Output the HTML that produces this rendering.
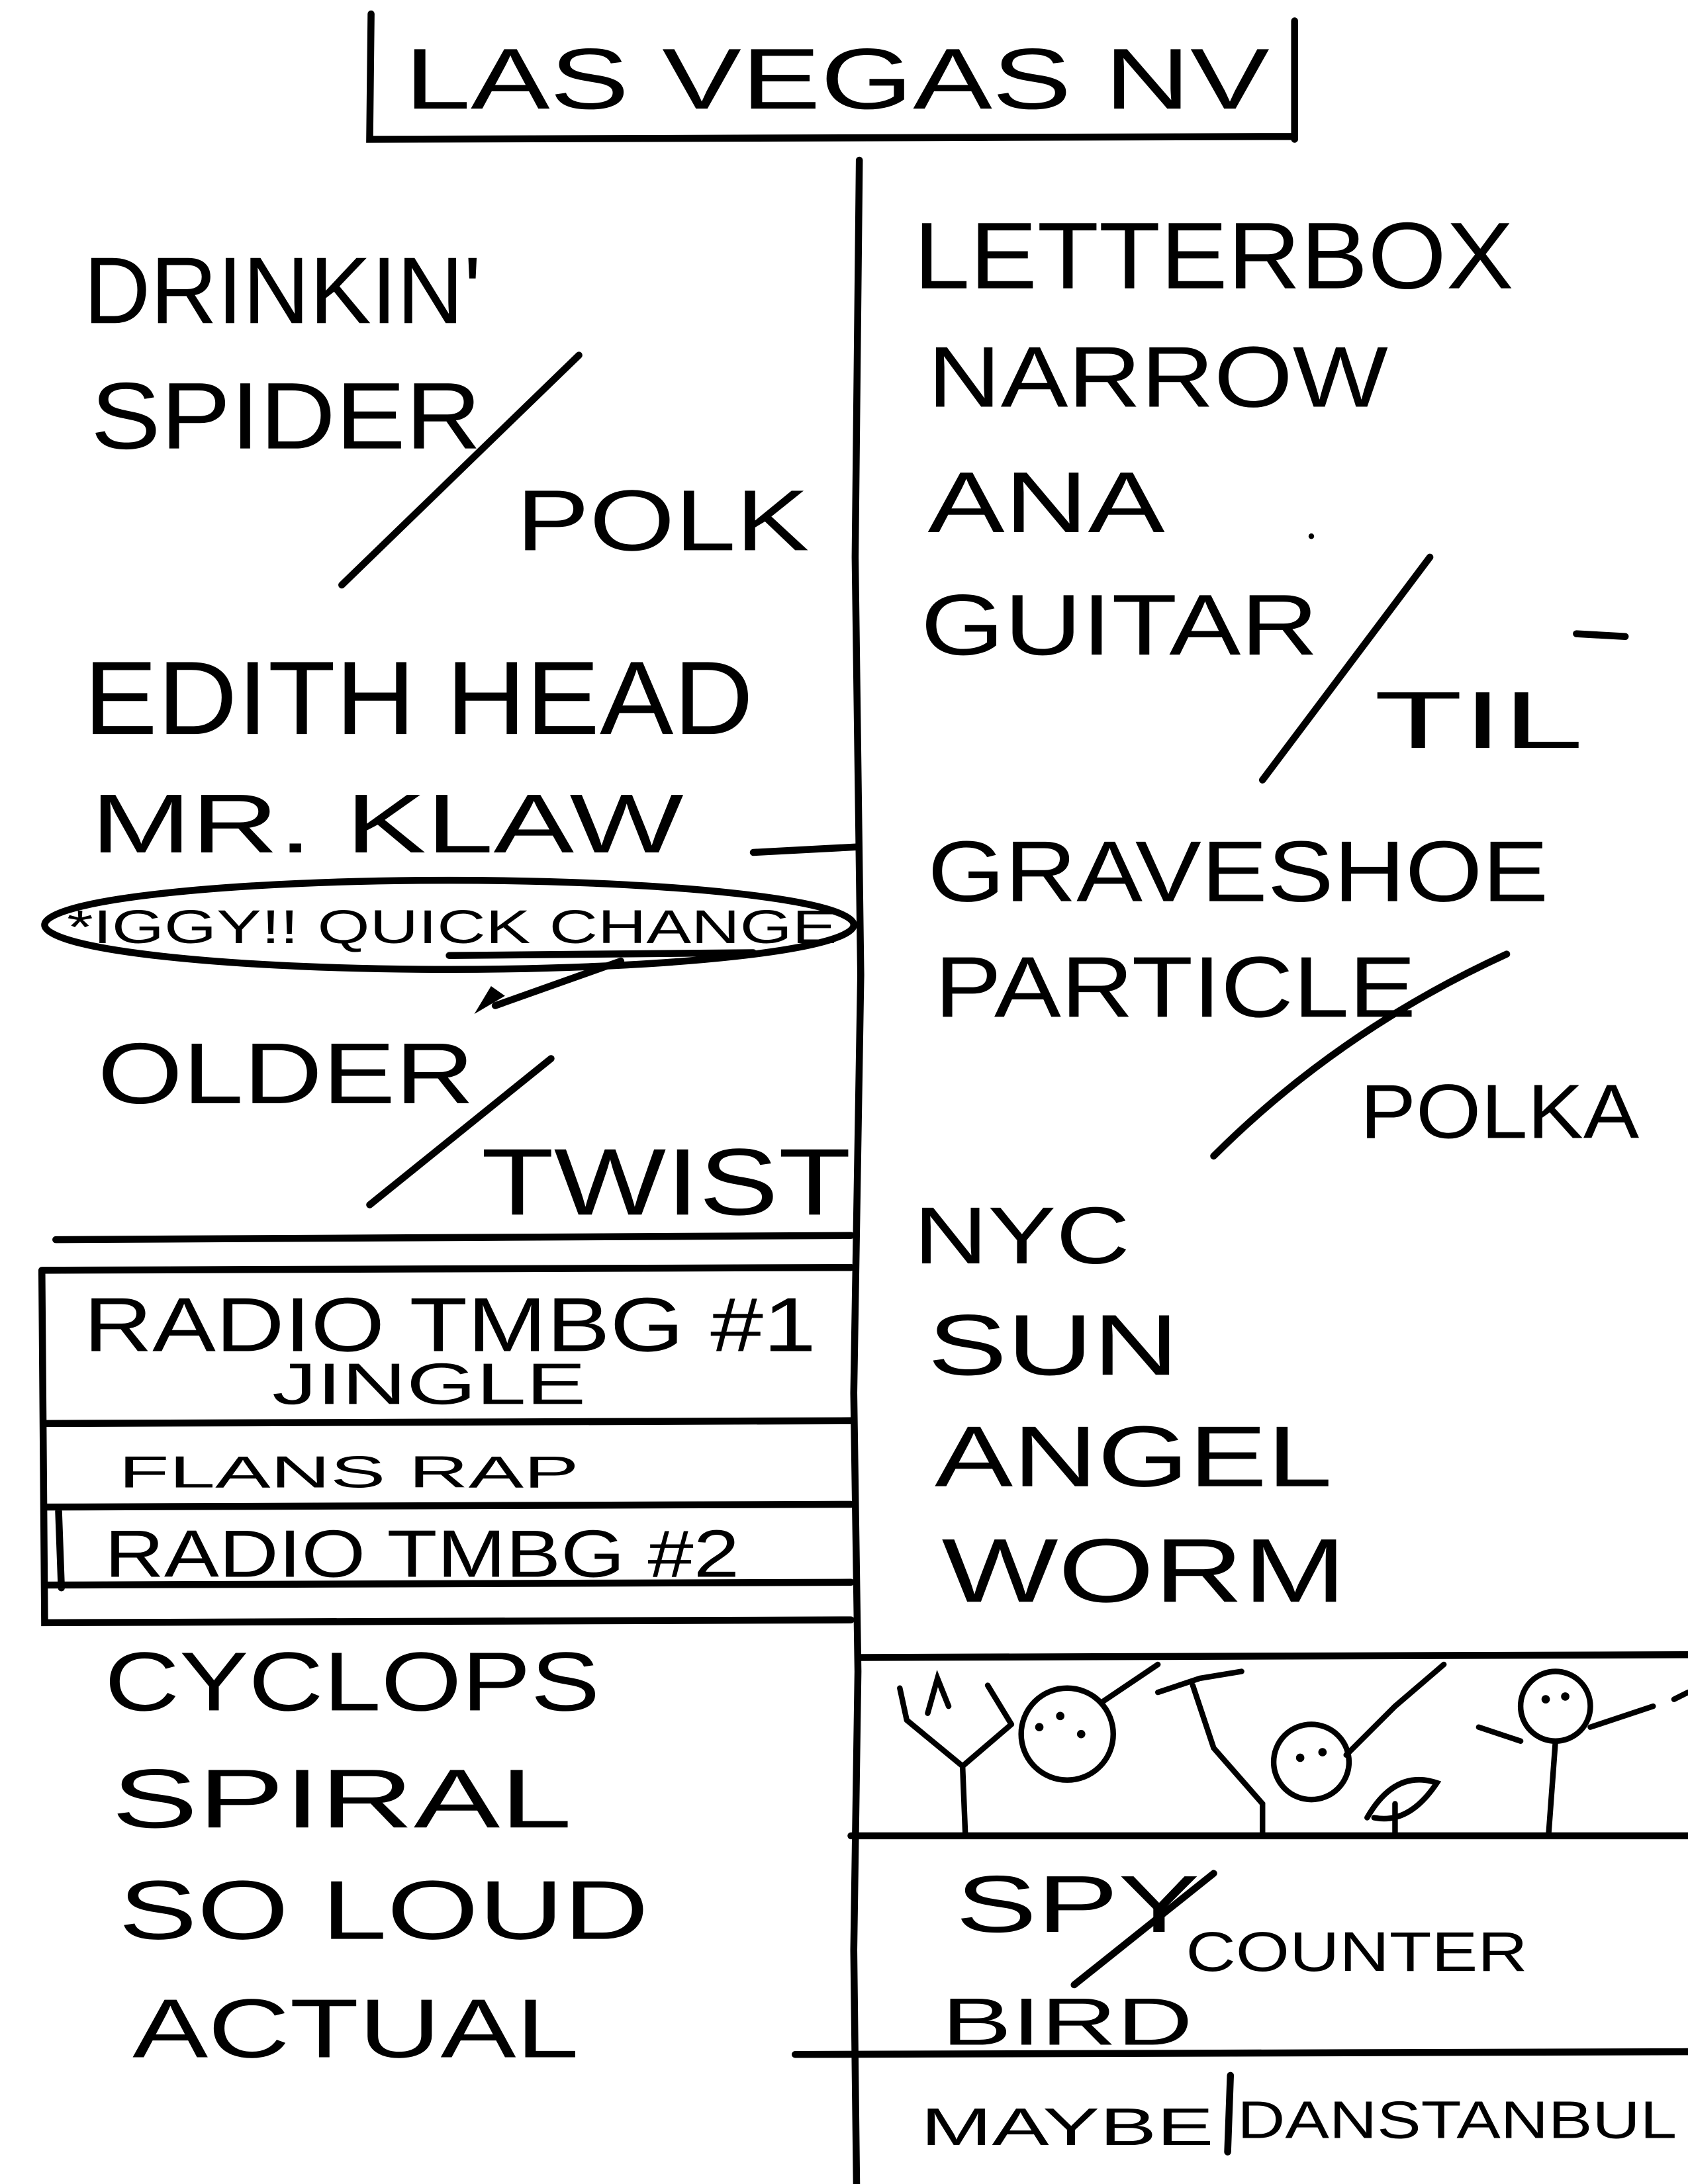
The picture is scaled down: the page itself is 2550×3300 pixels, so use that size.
<!DOCTYPE html>
<html><head><meta charset="utf-8"><style>
html,body{margin:0;padding:0;background:#fff;}
svg{display:block;}
text{font-family:"Liberation Sans",sans-serif;fill:#000;}
</style></head><body>
<svg width="2550" height="3300" viewBox="0 0 1210 1568" preserveAspectRatio="none" xmlns="http://www.w3.org/2000/svg">
<g stroke="#000" stroke-width="5" fill="none" stroke-linecap="round">
<path d="M266 10 L265 100 L928 98 M928 15 L928 100"/>
<path d="M616 115 L613 400 L617 700 L612 1000 L615 1200 L612 1400 L614 1568"/>
<path d="M415 255 L245 420"/>
<path d="M540 612 L615 608"/>
<ellipse cx="322" cy="664" rx="290" ry="32"/>
<path d="M322 686 L540 684"/>
<path d="M445 690 L355 722"/>
<path d="M395 760 L265 865"/>
<path d="M40 890 L610 887"/>
<path d="M30 912 L610 910 M30 912 L32 1165 L610 1163 M32 1022 L610 1020 M34 1082 L610 1080 M34 1138 L610 1136 M42 1085 L44 1140"/>
<path d="M1025 400 L905 560"/>
<path d="M1080 685 Q960 740 870 830"/>
<path d="M1130 455 L1165 457"/>
<path d="M615 1190 L1210 1188"/>
<path d="M610 1318 L1210 1318"/>
<path d="M870 1345 L770 1425"/>
<path d="M570 1475 L1210 1473"/>
<path d="M882 1490 L880 1545"/>
<g stroke-width="4">
<path d="M650 1235 L690 1268 L725 1238 M690 1268 L692 1318 M650 1235 L645 1212 M665 1230 L672 1205 L680 1225 M708 1210 L725 1238"/>
<circle cx="765" cy="1245" r="33"/>
<path d="M790 1222 L830 1195 M830 1215 L860 1205 L890 1200 M855 1210 L870 1255 L905 1295 L905 1318"/>
<circle cx="940" cy="1265" r="27"/>
<path d="M965 1260 L1000 1225 L1035 1195 M980 1305 Q1000 1270 1030 1280 Q1010 1310 985 1305 M1000 1318 L1000 1295"/>
<circle cx="1115" cy="1225" r="25"/>
<path d="M1115 1250 L1110 1318 M1140 1240 L1185 1225 M1200 1220 L1210 1215 M1090 1250 L1060 1240"/>
</g>
<g fill="#000" stroke="none"><circle cx="745" cy="1240" r="3"/><circle cx="760" cy="1232" r="3"/><circle cx="775" cy="1245" r="3"/><circle cx="932" cy="1262" r="3"/><circle cx="948" cy="1258" r="3"/><circle cx="1108" cy="1220" r="3"/><circle cx="1122" cy="1218" r="3"/><circle cx="940" cy="385" r="2"/></g>
</g>
<path d="M340 728 L362 715 L352 708 Z" fill="#000"/>
<text x="290" y="78" font-size="62" textLength="620" lengthAdjust="spacingAndGlyphs">LAS VEGAS NV</text>
<text x="60" y="232" font-size="68" textLength="285" lengthAdjust="spacingAndGlyphs">DRINKIN'</text>
<text x="65" y="322" font-size="68" textLength="280" lengthAdjust="spacingAndGlyphs">SPIDER</text>
<text x="370" y="395" font-size="62" textLength="210" lengthAdjust="spacingAndGlyphs">POLK</text>
<text x="60" y="527" font-size="75" textLength="480" lengthAdjust="spacingAndGlyphs">EDITH HEAD</text>
<text x="65" y="612" font-size="60" textLength="425" lengthAdjust="spacingAndGlyphs">MR. KLAW</text>
<text x="48" y="677" font-size="34" textLength="552" lengthAdjust="spacingAndGlyphs">*IGGY!! QUICK CHANGE</text>
<text x="70" y="792" font-size="62" textLength="270" lengthAdjust="spacingAndGlyphs">OLDER</text>
<text x="345" y="872" font-size="68" textLength="265" lengthAdjust="spacingAndGlyphs">TWIST</text>
<text x="60" y="970" font-size="55" textLength="525" lengthAdjust="spacingAndGlyphs">RADIO TMBG #1</text>
<text x="195" y="1008" font-size="42" textLength="225" lengthAdjust="spacingAndGlyphs">JINGLE</text>
<text x="85" y="1068" font-size="32" textLength="330" lengthAdjust="spacingAndGlyphs">FLANS    RAP</text>
<text x="75" y="1132" font-size="48" textLength="455" lengthAdjust="spacingAndGlyphs">RADIO TMBG #2</text>
<text x="75" y="1228" font-size="60" textLength="355" lengthAdjust="spacingAndGlyphs">CYCLOPS</text>
<text x="80" y="1312" font-size="60" textLength="330" lengthAdjust="spacingAndGlyphs">SPIRAL</text>
<text x="85" y="1392" font-size="60" textLength="380" lengthAdjust="spacingAndGlyphs">SO LOUD</text>
<text x="95" y="1477" font-size="60" textLength="320" lengthAdjust="spacingAndGlyphs">ACTUAL</text>
<text x="655" y="207" font-size="68" textLength="430" lengthAdjust="spacingAndGlyphs">LETTERBOX</text>
<text x="665" y="292" font-size="62" textLength="330" lengthAdjust="spacingAndGlyphs">NARROW</text>
<text x="665" y="382" font-size="62" textLength="170" lengthAdjust="spacingAndGlyphs">ANA</text>
<text x="660" y="470" font-size="62" textLength="285" lengthAdjust="spacingAndGlyphs">GUITAR</text>
<text x="985" y="537" font-size="58" textLength="150" lengthAdjust="spacingAndGlyphs">TIL</text>
<text x="665" y="647" font-size="62" textLength="445" lengthAdjust="spacingAndGlyphs">GRAVESHOE</text>
<text x="670" y="730" font-size="62" textLength="345" lengthAdjust="spacingAndGlyphs">PARTICLE</text>
<text x="975" y="817" font-size="55" textLength="200" lengthAdjust="spacingAndGlyphs">POLKA</text>
<text x="655" y="907" font-size="58" textLength="155" lengthAdjust="spacingAndGlyphs">NYC</text>
<text x="665" y="987" font-size="62" textLength="180" lengthAdjust="spacingAndGlyphs">SUN</text>
<text x="670" y="1067" font-size="62" textLength="285" lengthAdjust="spacingAndGlyphs">ANGEL</text>
<text x="675" y="1150" font-size="65" textLength="290" lengthAdjust="spacingAndGlyphs">WORM</text>
<text x="685" y="1387" font-size="58" textLength="175" lengthAdjust="spacingAndGlyphs">SPY</text>
<text x="850" y="1415" font-size="40" textLength="245" lengthAdjust="spacingAndGlyphs">COUNTER</text>
<text x="675" y="1468" font-size="48" textLength="180" lengthAdjust="spacingAndGlyphs">BIRD</text>
<text x="660" y="1540" font-size="38" textLength="210" lengthAdjust="spacingAndGlyphs">MAYBE</text>
<text x="887" y="1535" font-size="38" textLength="315" lengthAdjust="spacingAndGlyphs">DANSTANBUL</text>
</svg>
</body></html>
